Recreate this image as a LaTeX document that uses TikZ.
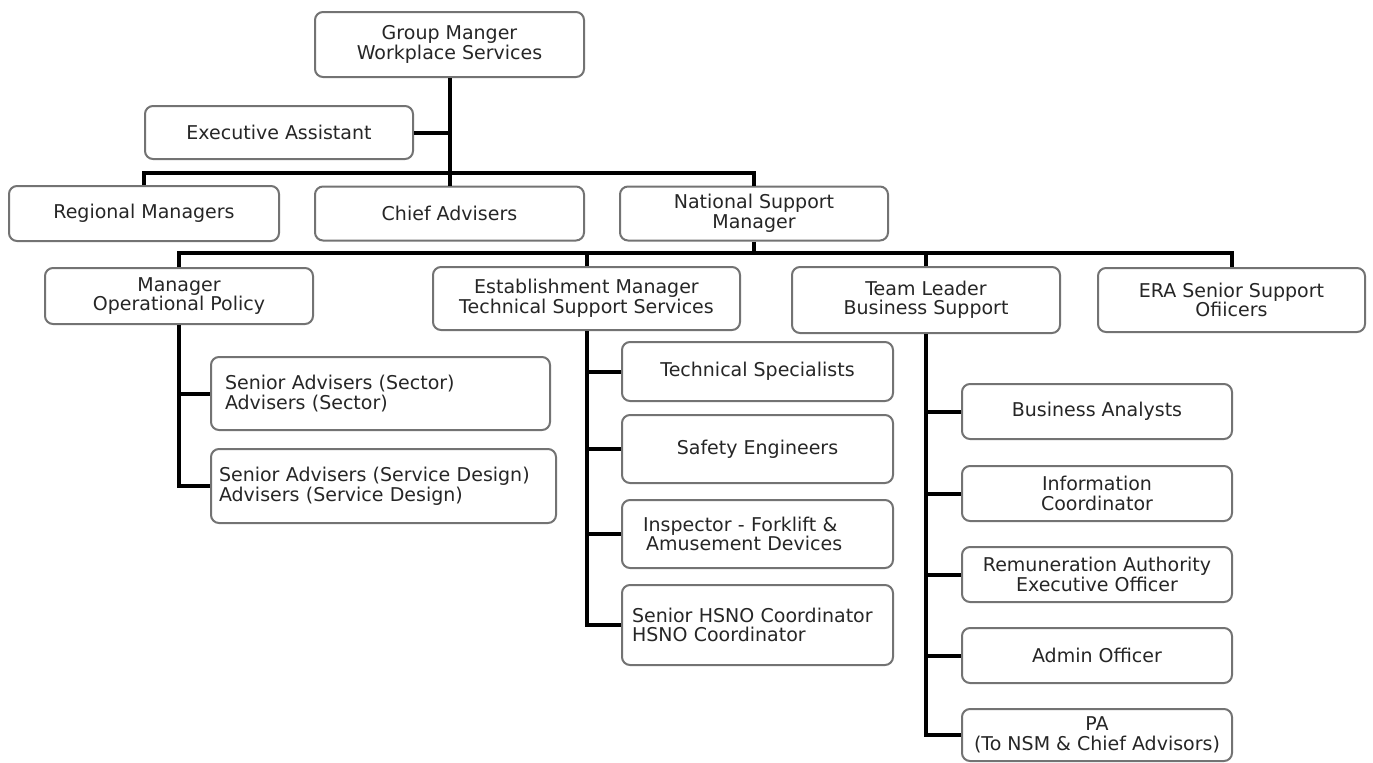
\documentclass[tikz,border=0pt]{standalone}
\usepackage{fontspec}
\setmainfont{DejaVu Sans}
\begin{document}
\begin{tikzpicture}[x=0.5pt, y=-0.5pt,
    unit/.style={draw=black!55, line width=1pt, rounded corners=4pt, fill=white,
      text=black!85, align=center, inner sep=0pt, font=\fontsize{9.5}{9.75}\selectfont},
    link/.style={line width=2pt}]
    \useasboundingbox (0,0) rectangle (1373,762);

    % top levels
    \node[unit, minimum width=134.5pt, minimum height=32.5pt] (gm) at (449.5,44.5) {Group Manger\\Workplace Services};
    \node[unit, minimum width=134pt, minimum height=26.5pt] (ea) at (279,132.5) {Executive Assistant};
    \node[unit, minimum width=135pt, minimum height=27.5pt] (rm) at (144,213.5) {Regional Managers};
    \node[unit, minimum width=134.5pt, minimum height=27pt] (ca) at (449.5,213.5) {Chief Advisers};
    \node[unit, minimum width=134pt, minimum height=27pt] (nsm) at (754,213.5) {National Support\\Manager};

    \node[unit, minimum width=134pt, minimum height=28pt] (mop) at (179,296) {Manager\\Operational Policy};
    \node[unit, minimum width=153.5pt, minimum height=31.5pt] (em) at (586.5,298.5) {Establishment Manager\\Technical Support Services};
    \node[unit, minimum width=134pt, minimum height=33pt] (tl) at (926,300) {Team Leader\\Business Support};
    \node[unit, minimum width=133.5pt, minimum height=32pt] (era) at (1231.5,300) {ERA Senior Support\\Ofiicers};

    % operational policy
    \node[unit, align=left, text width=155.5pt, minimum width=169.5pt, minimum height=36.5pt] (sa1) at (380.5,393.5) {Senior Advisers (Sector)\\Advisers (Sector)};
    \node[unit, align=left, text width=164.5pt, minimum width=172.5pt, minimum height=37pt] (sa2) at (383.5,486) {Senior Advisers (Service Design)\\Advisers (Service Design)};

    % technical support
    \node[unit, minimum width=135.5pt, minimum height=29.5pt] (ts) at (757.5,371.5) {Technical Specialists};
    \node[unit, minimum width=135.5pt, minimum height=34pt] (se) at (757.5,449) {Safety Engineers};
    \node[unit, align=left, text width=114.5pt, minimum width=135.5pt, minimum height=34pt] (ins) at (757.5,534) {Inspector - Forklift \&\\\,Amusement Devices};
    \node[unit, align=left, text width=125.5pt, minimum width=135.5pt, minimum height=40pt] (hsno) at (757.5,625) {Senior HSNO Coordinator\\HSNO Coordinator};

    % business support
    \node[unit, minimum width=135pt, minimum height=27.5pt] (ba) at (1097,411.5) {Business Analysts};
    \node[unit, minimum width=135pt, minimum height=27.5pt] (ic) at (1097,493.5) {Information\\Coordinator};
    \node[unit, minimum width=135pt, minimum height=27.5pt] (ra) at (1097,574.5) {Remuneration Authority\\Executive Officer};
    \node[unit, minimum width=135pt, minimum height=27.5pt] (ao) at (1097,655.5) {Admin Officer};
    \node[unit, minimum width=135pt, minimum height=26pt] (pa) at (1097,735) {PA\\(To NSM \& Chief Advisors)};

    % connectors
    \coordinate (bus1) at (450,173);
    \coordinate (bus2) at (586,253);
    \draw[link] (gm.south) -- (ca.north);
    \draw[link] (ea.east) -- (ea.east -| gm.south);
    \draw[link] (rm.north) |- (bus1) -| (nsm.north);
    \draw[link] (nsm.south) -- (nsm.south |- bus2);
    \draw[link] (mop.north) |- (bus2) -| (era.north);
    \draw[link] (em.north) -- (em.north |- bus2);
    \draw[link] (tl.north) -- (tl.north |- bus2);

    \foreach \c in {sa1,sa2} \draw[link] (mop.south) |- (\c.west);
    \foreach \c in {ts,se,ins,hsno} \draw[link] (em.south) |- (\c.west);
    \foreach \c in {ba,ic,ra,ao,pa} \draw[link] (tl.south) |- (\c.west);
  \end{tikzpicture}
\end{document}
